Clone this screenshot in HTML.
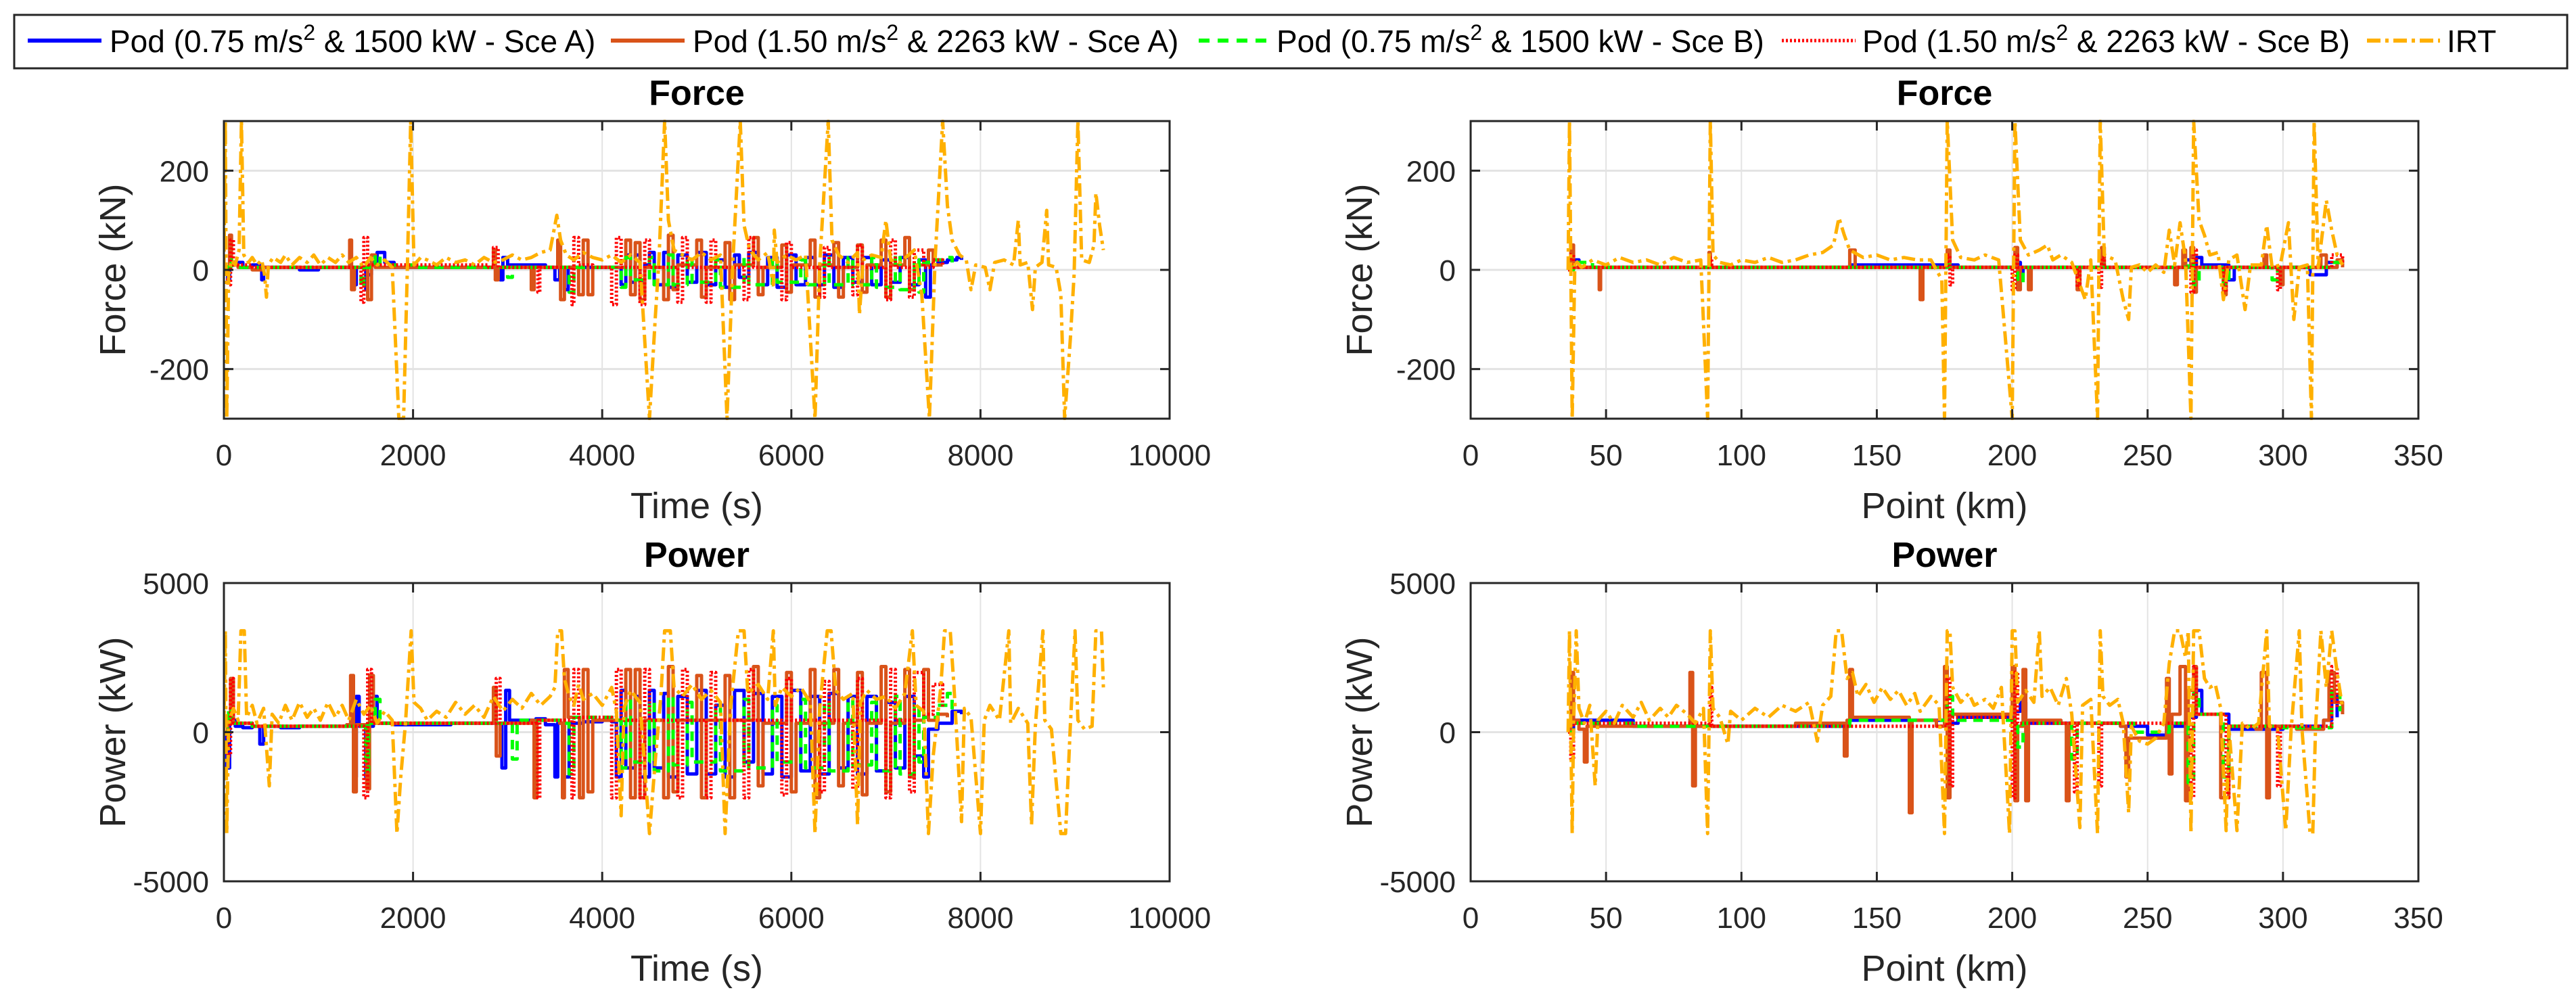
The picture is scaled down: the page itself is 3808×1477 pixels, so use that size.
<!DOCTYPE html>
<html><head><meta charset="utf-8">
<style>
html,body{margin:0;padding:0;background:#fff;}
svg{display:block;font-family:"Liberation Sans",Arial,sans-serif;}
</style></head>
<body>
<svg id="fig" width="3808" height="1477" viewBox="0 0 3808 1477" xmlns="http://www.w3.org/2000/svg">
<rect x="0" y="0" width="3808" height="1477" fill="#fff"/>
<g>
<rect x="21" y="22" width="3774" height="79" fill="#fff" stroke="#262626" stroke-width="3"/>
<g><line x1="41" y1="60" x2="150" y2="60" stroke="#0000ff" stroke-width="6"/><text x="162" y="77" font-size="46" fill="#000">Pod (0.75 m/s<tspan dy="-18" font-size="32">2</tspan><tspan dy="18"> &amp; 1500 kW - Sce A)</tspan></text></g>
<g><line x1="903" y1="60" x2="1012" y2="60" stroke="#d95319" stroke-width="6"/><text x="1024" y="77" font-size="46" fill="#000">Pod (1.50 m/s<tspan dy="-18" font-size="32">2</tspan><tspan dy="18"> &amp; 2263 kW - Sce A)</tspan></text></g>
<g><line x1="1772" y1="60" x2="1877" y2="60" stroke="#00ff00" stroke-width="6" stroke-dasharray="16,12"/><text x="1887" y="77" font-size="46" fill="#000">Pod (0.75 m/s<tspan dy="-18" font-size="32">2</tspan><tspan dy="18"> &amp; 1500 kW - Sce B)</tspan></text></g>
<g><line x1="2634" y1="60" x2="2743" y2="60" stroke="#ff0000" stroke-width="5" stroke-dasharray="3,3"/><text x="2753" y="77" font-size="46" fill="#000">Pod (1.50 m/s<tspan dy="-18" font-size="32">2</tspan><tspan dy="18"> &amp; 2263 kW - Sce B)</tspan></text></g>
<g><line x1="3499" y1="60" x2="3607" y2="60" stroke="#ffb000" stroke-width="6" stroke-dasharray="20,7,5,7"/><text x="3617" y="77" font-size="46" fill="#000">IRT</text></g>
</g>
</svg>
<script>
// ---------- data ----------
const timeTicks = [0,2000,4000,6000,8000,10000];
const kmTicks = [0,50,100,150,200,250,300,350];
const forceTicks = [-200,0,200];
const powerTicks = [-5000,0,5000];

const irtForceTime = [[0,0],[15,300],[30,-300],[50,-10],[80,20],[120,10],[160,40],[185,300],[210,30],[260,15],[300,25],[350,10],[400,20],[430,-10],[450,-55],[470,10],[520,25],[600,15],[650,30],[720,10],[800,25],[880,15],[950,30],[1020,10],[1100,25],[1180,15],[1250,30],[1320,15],[1400,25],[1480,5],[1550,25],[1620,10],[1700,20],[1780,5],[1850,-300],[1900,-300],[1940,5],[1975,300],[2010,10],[2080,25],[2150,20],[2250,10],[2350,25],[2450,15],[2550,20],[2650,10],[2750,25],[2850,15],[2950,20],[3050,30],[3150,20],[3250,25],[3350,35],[3450,40],[3520,110],[3560,60],[3620,30],[3700,20],[3800,35],[3900,25],[4000,20],[4100,30],[4200,15],[4300,30],[4400,15],[4500,-300],[4560,-100],[4600,20],[4660,300],[4700,100],[4760,40],[4850,30],[4950,20],[5050,35],[5150,20],[5250,30],[5320,-300],[5380,10],[5460,300],[5500,90],[5560,40],[5650,20],[5750,35],[5810,-30],[5820,80],[5850,15],[5950,30],[6050,20],[6150,30],[6250,-300],[6300,10],[6390,300],[6430,60],[6500,30],[6600,15],[6700,35],[6720,-90],[6760,20],[6850,30],[6950,25],[7000,100],[7050,20],[7150,15],[7300,40],[7380,-50],[7460,-300],[7520,20],[7600,300],[7650,130],[7700,60],[7780,30],[7850,20],[7900,-40],[7950,10],[8050,5],[8100,-40],[8150,15],[8250,20],[8350,10],[8400,100],[8420,10],[8500,15],[8550,-80],[8580,5],[8650,15],[8700,120],[8720,10],[8800,5],[8850,-50],[8890,-300],[8950,-140],[8990,-10],[9030,300],[9070,20],[9150,15],[9200,50],[9220,155],[9260,90],[9300,40]];
const podAForceTime = [[0,0],[40,-20],[60,10],[120,15],[200,5],[300,10],[380,5],[400,-20],[420,5],[600,5],[800,0],[1000,5],[1300,5],[1380,-30],[1400,5],[1500,-40],[1520,-10],[1560,15],[1620,35],[1700,15],[1800,5],[2200,5],[2900,5],[2920,-20],[2950,25],[3000,10],[3200,10],[3400,5],[3500,-20],[3550,5],[3600,-40],[3640,5],[3800,5],[4100,5],[4200,-30],[4250,30],[4300,-25],[4350,30],[4400,-25],[4450,10],[4500,35],[4550,-30],[4650,35],[4700,-35],[4800,30],[4900,-25],[5000,35],[5100,-30],[5200,20],[5300,-35],[5400,30],[5450,-15],[5550,35],[5650,-30],[5750,25],[5850,-35],[5950,30],[6050,-30],[6150,25],[6250,-30],[6350,30],[6450,-35],[6550,25],[6650,-25],[6750,25],[6850,-30],[6950,20],[7050,-25],[7150,25],[7250,-30],[7350,20],[7420,-55],[7470,10],[7550,15],[7650,20],[7750,25],[7800,20]];
const podA2ForceTime = [[0,0],[30,5],[60,70],[80,10],[150,5],[300,0],[400,5],[1300,5],[1330,60],[1350,-40],[1380,5],[1500,5],[1520,-60],[1560,30],[1600,5],[2800,5],[2850,40],[2870,-20],[2900,5],[3200,5],[3250,-40],[3280,5],[3500,5],[3530,60],[3560,-60],[3600,5],[3700,5],[3750,-50],[3800,60],[3850,-50],[3900,5],[4200,5],[4250,60],[4300,-50],[4350,55],[4400,-60],[4450,5],[4600,5],[4650,-60],[4700,70],[4750,-40],[4800,10],[5000,60],[5050,-55],[5100,5],[5300,55],[5350,-60],[5400,10],[5600,65],[5650,-50],[5700,5],[5900,50],[5950,-45],[6000,10],[6200,60],[6250,-55],[6300,10],[6450,55],[6500,-55],[6550,5],[6700,50],[6750,-45],[6800,10],[6950,60],[7000,-55],[7050,10],[7200,65],[7250,-40],[7300,10],[7450,40],[7500,10],[7600,10]];
const podBForceTime = [[0,0],[50,20],[80,5],[300,5],[1400,5],[1450,-35],[1480,5],[1600,30],[1650,10],[2000,5],[2950,5],[3000,-15],[3050,5],[3600,5],[3650,-45],[3700,5],[4150,5],[4200,-35],[4250,25],[4300,-20],[4500,25],[4550,-30],[4700,30],[4750,-30],[4900,25],[4950,-25],[5200,20],[5250,-35],[5500,25],[5550,-30],[5800,20],[5850,-25],[6100,20],[6150,-30],[6350,25],[6400,-30],[6600,25],[6650,-30],[6850,25],[6900,-35],[7100,30],[7150,-40],[7300,20],[7350,-45],[7400,15],[7500,20],[7600,25],[7700,15]];
const podB2ForceTime = [[0,0],[40,-30],[70,60],[100,10],[300,5],[1400,5],[1450,-65],[1480,65],[1520,10],[2800,5],[2850,45],[2900,5],[3300,5],[3320,-45],[3340,5],[3650,5],[3680,-70],[3700,65],[3750,10],[3900,5],[4100,-70],[4150,65],[4200,5],[4400,-70],[4450,60],[4500,5],[4800,-65],[4850,65],[4900,5],[5100,-65],[5150,60],[5200,5],[5500,-60],[5550,65],[5600,5],[5900,-60],[5950,55],[6000,5],[6300,-55],[6350,45],[6400,5],[6650,-50],[6700,50],[6750,5],[7000,-60],[7050,60],[7100,5],[7250,-55],[7300,40],[7400,5],[7500,20],[7600,10]];

const irtPowerTime = [[0,0],[15,3400],[30,-3400],[50,300],[100,800],[150,400],[180,3400],[215,3400],[240,500],[300,900],[350,300],[420,800],[480,-1800],[510,600],[580,300],[650,900],[720,400],[800,1000],[880,500],[950,800],[1020,400],[1100,1000],[1180,500],[1250,900],[1320,400],[1400,1100],[1480,600],[1550,900],[1620,300],[1700,700],[1780,400],[1830,-3400],[1870,-1500],[1920,300],[1980,3400],[2010,1000],[2080,800],[2150,400],[2250,700],[2350,500],[2450,1000],[2550,600],[2650,900],[2750,500],[2850,1200],[2950,700],[3050,1100],[3150,800],[3250,1300],[3350,900],[3450,1200],[3500,1500],[3530,3400],[3570,3400],[3600,1800],[3650,1200],[3700,900],[3750,1600],[3800,1100],[3900,1300],[4000,900],[4100,1500],[4150,700],[4200,-2800],[4230,800],[4300,1400],[4400,1000],[4500,-3400],[4560,-1000],[4620,1200],[4660,3400],[4720,3400],[4760,1500],[4850,1200],[4950,1600],[5050,1100],[5150,1400],[5250,1000],[5300,-3400],[5360,900],[5440,3400],[5500,3400],[5540,1300],[5650,1600],[5750,1100],[5810,3400],[5830,900],[5900,1500],[6000,1200],[6100,1500],[6200,1000],[6250,-3400],[6300,800],[6380,3400],[6420,3400],[6470,1400],[6550,1100],[6650,1300],[6700,-3100],[6730,1000],[6800,1400],[6900,1100],[7000,1200],[7100,800],[7200,1300],[7280,3400],[7320,900],[7400,700],[7450,-3400],[7500,-800],[7580,1500],[7620,3400],[7680,3400],[7720,1500],[7800,-3000],[7830,800],[7900,500],[8000,-3400],[8040,400],[8100,900],[8200,400],[8300,3400],[8320,300],[8400,800],[8500,300],[8540,-3100],[8580,200],[8660,3400],[8680,400],[8750,100],[8850,-3400],[8900,-3400],[8950,200],[9000,3400],[9030,400],[9100,100],[9180,200],[9220,3400],[9280,3400],[9300,1500]];
const podAPowerTime = [[0,0],[30,-1200],[60,400],[120,200],[200,150],[300,200],[380,-400],[420,200],[600,150],[800,200],[1200,200],[1300,250],[1380,-1500],[1400,1200],[1430,200],[1500,-1500],[1530,200],[1580,1200],[1620,300],[1800,250],[2400,300],[2900,300],[2940,-1200],[2980,1400],[3020,400],[3300,450],[3400,250],[3500,-1500],[3530,300],[3600,-1500],[3650,300],[3800,350],[4000,400],[4100,350],[4150,-1500],[4200,1400],[4250,-1200],[4350,1200],[4400,-1500],[4500,1400],[4550,-1200],[4650,1300],[4700,-1500],[4800,1200],[4900,-1400],[5000,1400],[5100,-1400],[5200,900],[5300,-1500],[5400,1400],[5500,-1000],[5600,1300],[5700,-1400],[5800,1200],[5900,-1500],[6000,1400],[6100,-1300],[6200,1200],[6300,-1400],[6400,1300],[6500,-1200],[6600,1200],[6700,-1400],[6800,1200],[6900,-1300],[7000,1000],[7100,-1200],[7200,1200],[7300,-800],[7400,-1500],[7450,100],[7550,300],[7700,700],[7800,600]];
const podA2PowerTime = [[0,0],[40,300],[70,1800],[100,300],[300,200],[1300,250],[1340,1900],[1370,-2000],[1400,250],[1480,250],[1510,-1900],[1540,1900],[1580,300],[2800,300],[2850,1500],[2880,-800],[2920,300],[3250,400],[3280,-2200],[3310,400],[3550,300],[3580,-2200],[3600,2100],[3640,500],[3700,500],[3760,-2200],[3800,2100],[3850,-2000],[3900,400],[4200,400],[4250,2100],[4300,-2200],[4350,2100],[4400,-2200],[4450,400],[4600,400],[4650,-2200],[4700,2200],[4750,-2000],[4800,400],[5000,1900],[5050,-2200],[5100,400],[5300,1900],[5350,-2200],[5400,400],[5600,2200],[5650,-1800],[5700,300],[5950,2000],[6000,-2000],[6050,300],[6200,2100],[6250,-2200],[6300,300],[6450,2100],[6500,-1800],[6550,300],[6700,2000],[6750,-2100],[6800,300],[6950,2200],[7000,-2000],[7050,300],[7200,2100],[7250,-1500],[7300,400],[7400,2100],[7450,400],[7550,600],[7650,500]];
const podBPowerTime = [[0,0],[50,800],[80,300],[300,200],[1450,200],[1500,-1300],[1530,300],[1600,1100],[1650,300],[3000,300],[3050,-900],[3100,400],[3600,300],[3650,-1400],[3700,500],[4150,400],[4200,-1200],[4250,1100],[4300,-1000],[4500,1000],[4550,-1300],[4700,1200],[4750,-1100],[4900,1000],[4950,-1000],[5200,900],[5250,-1300],[5500,1100],[5550,-1200],[5800,900],[5850,-1000],[6100,1100],[6150,-1200],[6350,1000],[6400,-1300],[6600,1100],[6650,-1100],[6850,1000],[6900,-1300],[7100,1200],[7150,-1400],[7300,900],[7350,-1000],[7400,500],[7550,900],[7650,1300],[7700,600]];
const podB2PowerTime = [[0,0],[40,-800],[70,1800],[100,300],[300,200],[1450,200],[1480,-2200],[1520,2100],[1560,300],[2850,300],[2880,1800],[2920,300],[3300,400],[3320,-2200],[3340,400],[3650,400],[3680,-2200],[3700,2100],[3750,500],[4100,-2200],[4150,2100],[4200,400],[4400,-2200],[4450,2100],[4500,400],[4800,-2200],[4850,2100],[4900,400],[5100,-2200],[5150,2000],[5200,400],[5500,-2200],[5550,2100],[5600,400],[5900,-2100],[5950,1800],[6000,400],[6300,-2000],[6350,1700],[6400,400],[6650,-1900],[6700,1800],[6750,400],[7000,-2200],[7050,2100],[7100,400],[7250,-2000],[7300,2000],[7400,600],[7500,1600],[7600,800]];

const irtForceKm = [[36,0],[36.5,300],[37.5,-300],[38.5,20],[41,5],[45,20],[50,10],[55,25],[60,15],[65,20],[70,10],[75,25],[80,15],[85,20],[87.5,-300],[88.5,300],[89.5,30],[92,15],[96,10],[100,20],[105,15],[110,25],[115,15],[120,20],[125,30],[130,35],[134,50],[136,105],[138,70],[140,40],[145,25],[150,30],[155,20],[160,25],[165,20],[170,20],[174,-20],[175,-300],[176,300],[178,60],[181,25],[186,20],[190,30],[195,20],[200,-300],[201,300],[203,60],[206,30],[210,40],[213,50],[215,20],[218,30],[222,15],[225,-30],[227,-60],[229,20],[231.5,-300],[232.5,300],[234,30],[238,20],[241,-60],[243,-100],[244,5],[247,10],[250,-5],[253,10],[256,-5],[258,80],[260,10],[262,95],[264,20],[266,-300],[267,300],[269,100],[271,70],[273,30],[276,35],[278,-60],[280,20],[283,30],[286,-80],[288,10],[292,10],[294,90],[296,5],[299,10],[302,95],[304,-100],[306,5],[309,10],[310.5,-300],[311.5,300],[313,5],[316,140],[318,80],[320,30],[322,10]];
const podAForceKm = [[36,0],[37,20],[40,5],[100,5],[140,10],[180,5],[202,15],[203,-20],[204,5],[230,5],[262,5],[264,20],[266,5],[268,25],[270,10],[280,-20],[282,5],[300,5],[310,-10],[316,15],[320,5]];
const podA2ForceKm = [[36,0],[37,50],[38,5],[47,5],[47.5,-40],[48,5],[87,5],[88,35],[88.5,5],[137,5],[140,40],[142,5],[165,5],[166,-60],[167,5],[175,5],[176,40],[177,5],[200,5],[201,45],[202,-40],[203,5],[206,-40],[207,5],[223,5],[224,-40],[225,5],[232,5],[233,45],[234,5],[258,5],[260,-30],[261,5],[263,40],[264,5],[266,45],[267,-45],[268,5],[277,5],[278,-50],[279,5],[292,5],[293,30],[294,5],[298,5],[299,-30],[300,5],[312,5],[314,30],[316,5],[320,20],[322,5]];
const podBForceKm = [[36,0],[38,15],[45,5],[140,5],[176,10],[177,5],[202,-25],[204,5],[233,10],[234,5],[265,15],[267,-30],[269,5],[278,-30],[280,5],[296,-20],[298,5],[318,15],[322,5]];
const podB2ForceKm = [[36,0],[37,30],[38,5],[88,5],[88.5,25],[89,5],[175,5],[176,30],[177,-30],[178,5],[200,-40],[201,30],[202,5],[224,-35],[225,5],[232,-35],[233,25],[234,5],[266,-45],[267,40],[268,5],[278,-45],[279,5],[298,-40],[299,5],[318,30],[322,10]];

const irtPowerKm = [[36,0],[36.5,3400],[37.5,-3400],[38,200],[39,3400],[40,800],[42,300],[44,900],[46,-1800],[47,400],[50,700],[53,300],[56,900],[60,500],[63,1000],[66,400],[70,800],[73,500],[76,900],[80,600],[83,300],[86,800],[87.5,-3400],[88.5,3400],[89.5,800],[92,500],[95,-400],[96,700],[100,400],[105,800],[110,500],[115,900],[120,700],[125,1000],[128,-300],[130,900],[133,1200],[135,3400],[137,3400],[139,1800],[141,2000],[143,1200],[146,1600],[149,1000],[152,1500],[155,1100],[158,1400],[161,900],[164,1300],[166,700],[170,1200],[173,900],[175,-3400],[176,3400],[177,3400],[178,1500],[181,1000],[184,1300],[186,900],[190,1100],[193,800],[196,1500],[199,-3400],[200,3400],[201,3400],[202,1000],[205,1400],[208,1000],[210,3400],[211,1200],[214,1500],[217,900],[220,1800],[222,600],[225,-3200],[226,900],[229,1100],[231.5,-3400],[232.5,3400],[233.5,1200],[236,900],[239,1100],[241,300],[243,-2700],[244,200],[247,-300],[250,-400],[253,-200],[256,300],[258,2300],[260,3400],[262,3400],[264,2500],[265,3400],[266,-3400],[267,3400],[269,3400],[271,1800],[273,1500],[275,1600],[277,800],[279,-3300],[280,200],[283,-3300],[285,300],[288,100],[291,300],[294,3400],[295,200],[298,100],[301,-3300],[303,100],[306,3400],[307,100],[310,-3400],[311,-3400],[312,100],[314,3400],[316,1500],[318,3400],[320,2000],[322,800]];
const podAPowerKm = [[36,0],[38,400],[60,200],[100,200],[140,400],[175,300],[180,500],[200,700],[203,1000],[205,300],[240,200],[250,-100],[257,200],[265,500],[268,1400],[270,600],[280,100],[300,200],[315,400],[318,1200],[320,500]];
const podA2PowerKm = [[36,0],[37,2000],[38,400],[40,100],[42,-1000],[43,200],[80,200],[81,2000],[82,-1800],[83,200],[120,300],[137,300],[138,-800],[139,400],[140,2100],[141,500],[160,500],[162,-2700],[163,400],[172,200],[175,2200],[176,-2200],[177,600],[185,600],[199,600],[200,2200],[201,-2300],[202,200],[204,2100],[205,-2300],[206,400],[218,300],[220,-2300],[221,300],[240,200],[242,-1500],[243,-200],[255,-200],[257,1800],[258,-1400],[259,600],[262,2200],[264,-2300],[265,1400],[267,2200],[268,600],[275,600],[277,-2200],[279,-2200],[280,200],[290,100],[292,2000],[294,-2200],[295,200],[305,100],[315,400],[317,2000],[319,1000],[322,600]];
const podBPowerKm = [[36,0],[38,300],[60,200],[140,400],[176,1200],[178,400],[202,-500],[204,300],[222,-900],[224,300],[245,0],[258,300],[265,-1700],[267,1300],[269,600],[278,-1500],[280,200],[300,150],[318,1400],[321,700]];
const podB2PowerKm = [[36,0],[37,-900],[38,300],[88,200],[88.5,1500],[89,200],[176,1800],[177,-1800],[178,500],[200,-2200],[201,2000],[202,300],[223,-2000],[224,300],[232,-1800],[233,300],[266,-2200],[267,2200],[268,600],[279,-2200],[280,200],[298,-1800],[299,200],[318,2200],[320,800]];

// ---------- rendering ----------
const NS = 'http://www.w3.org/2000/svg';
const svg = document.getElementById('fig');
function mk(tag, attrs, parent){ const e=document.createElementNS(NS,tag); for(const k in attrs) e.setAttribute(k,attrs[k]); (parent||svg).appendChild(e); return e; }

const styles = {
  podA:  {stroke:'#0000ff', w:5, dash:'', step:true},
  podA2: {stroke:'#d95319', w:5, dash:'', step:true},
  podB:  {stroke:'#00ff00', w:5, dash:'14,10', step:true},
  podB2: {stroke:'#ff0000', w:5, dash:'3,3', step:true},
  irt:   {stroke:'#ffb000', w:5, dash:'20,7,5,7', step:false}
};

function panel(id, box, xdom, ydom, xticks, yticks, title, xlabel, ylabel, series){
  const g = mk('g', {});
  
  
  const sx = v => box.x0 + (v - xdom[0]) / (xdom[1] - xdom[0]) * (box.x1 - box.x0);
  const sy = v => box.y1 - (Math.max(ydom[0]-5, Math.min(ydom[1]+5, v)) - ydom[0]) / (ydom[1] - ydom[0]) * (box.y1 - box.y0);
  xticks.forEach(t => { if (t > xdom[0] && t < xdom[1]) { const l = mk('line', {x1:sx(t), x2:sx(t), y1:box.y0, y2:box.y1, stroke:'#e3e3e3', 'stroke-width':2}, g);
    
     } });
  yticks.forEach(t => { if (t > ydom[0] && t < ydom[1]) { const l = mk('line', {x1:box.x0, x2:box.x1, y1:sy(t), y2:sy(t), stroke:'#e3e3e3', 'stroke-width':3}, g);
    
     } });
  const cp = mk('clipPath', {id:'clip-' + id}, g);
  mk('rect', {x:box.x0, y:box.y0 - 2, width:box.x1 - box.x0, height:box.y1 - box.y0 + 4}, cp);
  const sg = mk('g', {'clip-path':'url(#clip-' + id + ')'}, g);
  series.forEach(s => {
    const st = styles[s.key];
    const pts = [];
    s.data.forEach((p, i) => {
      if (st.step && i > 0) pts.push(sx(p[0]).toFixed(1) + ',' + sy(s.data[i-1][1]).toFixed(1));
      pts.push(sx(p[0]).toFixed(1) + ',' + sy(p[1]).toFixed(1));
    });
    const pl = mk('polyline', {points:pts.join(' '), fill:'none', stroke:st.stroke, 'stroke-width':st.w, 'stroke-linejoin':'round'}, sg);
    if (st.dash) pl.setAttribute('stroke-dasharray', st.dash);
    
    
  });
  const bx = mk('rect', {x:box.x0, y:box.y0, width:box.x1 - box.x0, height:box.y1 - box.y0, fill:'none', stroke:'#262626', 'stroke-width':3}, g);
  
  
  xticks.forEach(t => {
    const x = sx(t);
    mk('line', {x1:x, x2:x, y1:box.y1, y2:box.y1 - 14, stroke:'#262626', 'stroke-width':3}, g);
    mk('line', {x1:x, x2:x, y1:box.y0, y2:box.y0 + 14, stroke:'#262626', 'stroke-width':3}, g);
    const tx = mk('text', {x:x, y:box.y1 + 69, 'text-anchor':'middle', 'font-size':44, fill:'#262626'}, g);
    tx.textContent = t;
    
    
  });
  yticks.forEach(t => {
    const y = sy(t);
    mk('line', {x1:box.x0, x2:box.x0 + 14, y1:y, y2:y, stroke:'#262626', 'stroke-width':3}, g);
    mk('line', {x1:box.x1, x2:box.x1 - 14, y1:y, y2:y, stroke:'#262626', 'stroke-width':3}, g);
    const ty = mk('text', {x:box.x0 - 22, y:y + 16, 'text-anchor':'end', 'font-size':44, fill:'#262626'}, g);
    ty.textContent = t;
    
    
  });
  const cx = (box.x0 + box.x1) / 2, cy = (box.y0 + box.y1) / 2;
  const tt = mk('text', {x:cx, y:box.y0 - 24, 'text-anchor':'middle', 'font-size':52, 'font-weight':'bold', fill:'#000'}, g);
  tt.textContent = title;
  
  
  const xl = mk('text', {x:cx, y:box.y1 + 147, 'text-anchor':'middle', 'font-size':54, fill:'#262626'}, g);
  xl.textContent = xlabel;
  
  
  const yx = box.x0 - 146;
  const yl = mk('text', {x:yx, y:cy, 'text-anchor':'middle', 'font-size':54, fill:'#262626', transform:'rotate(-90 ' + yx + ' ' + cy + ')'}, g);
  yl.textContent = ylabel;
  
  
}

const L = {x0:331, x1:1729}, R = {x0:2174, x1:3575};
const T = {y0:179, y1:619}, B = {y0:862, y1:1303};

panel('force-time-chart', {x0:L.x0, x1:L.x1, y0:T.y0, y1:T.y1}, [0,10000], [-300,300], timeTicks, forceTicks, 'Force', 'Time (s)', 'Force (kN)', [
  {key:'podA', name:'pod-a-075-force-line', data:podAForceTime},
  {key:'podA2', name:'pod-a-150-force-line', data:podA2ForceTime},
  {key:'podB', name:'pod-b-075-force-line', data:podBForceTime},
  {key:'podB2', name:'pod-b-150-force-line', data:podB2ForceTime},
  {key:'irt', name:'irt-force-line', data:irtForceTime}]);
panel('force-km-chart', {x0:R.x0, x1:R.x1, y0:T.y0, y1:T.y1}, [0,350], [-300,300], kmTicks, forceTicks, 'Force', 'Point (km)', 'Force (kN)', [
  {key:'podA', name:'pod-a-075-force-line', data:podAForceKm},
  {key:'podA2', name:'pod-a-150-force-line', data:podA2ForceKm},
  {key:'podB', name:'pod-b-075-force-line', data:podBForceKm},
  {key:'podB2', name:'pod-b-150-force-line', data:podB2ForceKm},
  {key:'irt', name:'irt-force-line', data:irtForceKm}]);
panel('power-time-chart', {x0:L.x0, x1:L.x1, y0:B.y0, y1:B.y1}, [0,10000], [-5000,5000], timeTicks, powerTicks, 'Power', 'Time (s)', 'Power (kW)', [
  {key:'podA', name:'pod-a-075-power-line', data:podAPowerTime},
  {key:'podA2', name:'pod-a-150-power-line', data:podA2PowerTime},
  {key:'podB', name:'pod-b-075-power-line', data:podBPowerTime},
  {key:'podB2', name:'pod-b-150-power-line', data:podB2PowerTime},
  {key:'irt', name:'irt-power-line', data:irtPowerTime}]);
panel('power-km-chart', {x0:R.x0, x1:R.x1, y0:B.y0, y1:B.y1}, [0,350], [-5000,5000], kmTicks, powerTicks, 'Power', 'Point (km)', 'Power (kW)', [
  {key:'podA', name:'pod-a-075-power-line', data:podAPowerKm},
  {key:'podA2', name:'pod-a-150-power-line', data:podA2PowerKm},
  {key:'podB', name:'pod-b-075-power-line', data:podBPowerKm},
  {key:'podB2', name:'pod-b-150-power-line', data:podB2PowerKm},
  {key:'irt', name:'irt-power-line', data:irtPowerKm}]);
</script>
</body></html>
